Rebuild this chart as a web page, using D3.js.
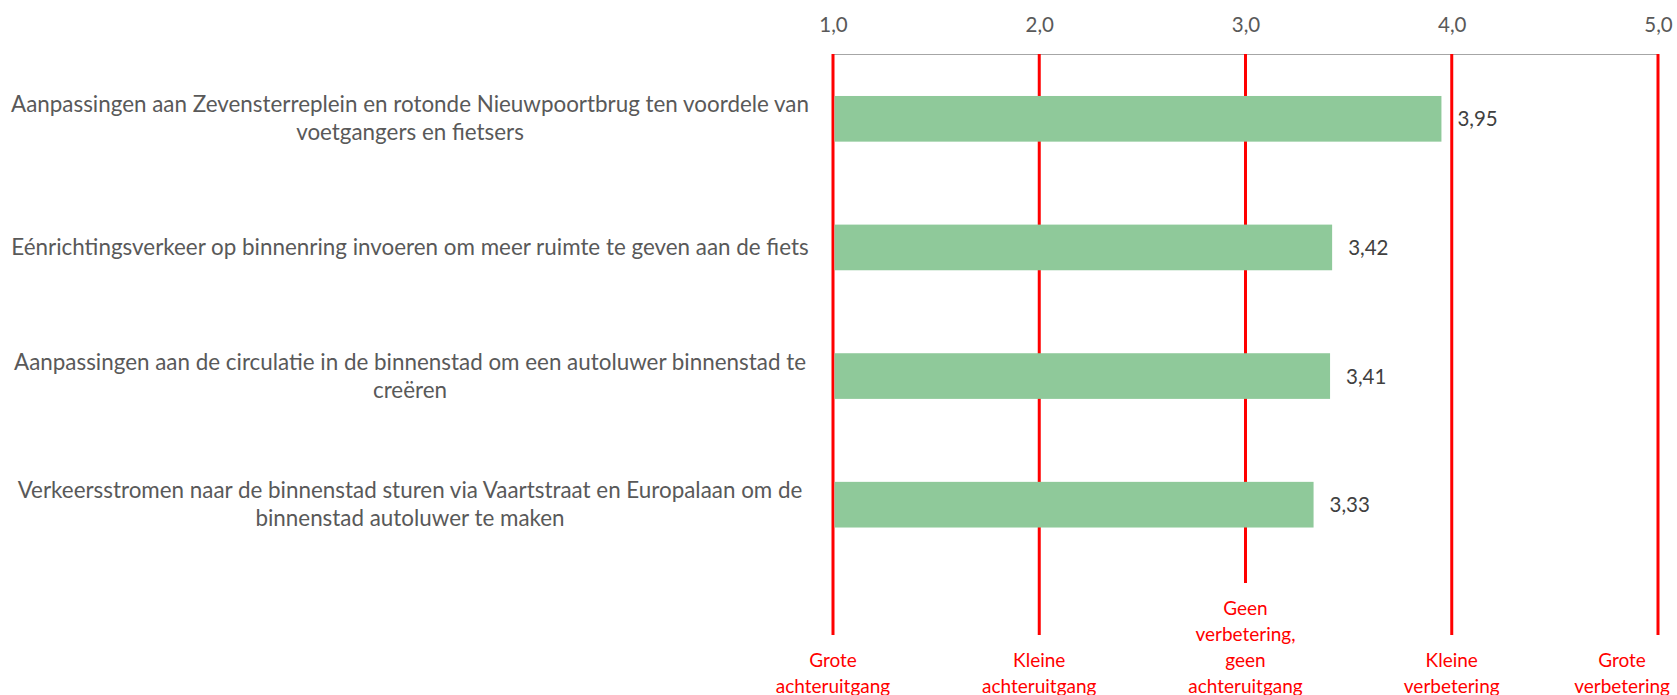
<!DOCTYPE html>
<html>
<head>
<meta charset="utf-8">
<script src="https://cdn.jsdelivr.net/npm/d3@7"></script>
<style>
body { margin: 0; background: #fff; }
svg { display: block; font-family: Lato, "Open Sans", sans-serif; }
</style>
</head>
<body>
<script>
var categories = [
  "Aanpassingen aan Zevensterreplein en rotonde Nieuwpoortbrug ten voordele van voetgangers en fietsers",
  "Eénrichtingsverkeer op binnenring invoeren om meer ruimte te geven aan de fiets",
  "Aanpassingen aan de circulatie in de binnenstad om een autoluwer binnenstad te creëren",
  "Verkeersstromen naar de binnenstad sturen via Vaartstraat en Europalaan om de binnenstad autoluwer te maken"
];
var scores = [3.95, 3.42, 3.41, 3.33];
var scaleTicks = [1, 2, 3, 4, 5];
var scaleLabels = [
  "Grote achteruitgang",
  "Kleine achteruitgang",
  "Geen verbetering, geen achteruitgang",
  "Kleine verbetering",
  "Grote verbetering"
];

var width = 1677, height = 695;
var barColor = "#8fc99a", red = "#ff0000";

var svg = d3.select("body").append("svg")
    .attr("width", width)
    .attr("height", height);

var x = d3.scaleLinear().domain([1, 5]).range([833, 1658]);
var y = d3.scaleBand()
    .domain(d3.range(categories.length))
    .range([54.5, 569])
    .paddingInner(0.645)
    .paddingOuter(0.3225);

// measuring helper for word wrap
var measure = svg.append("text").attr("visibility", "hidden");
function wrapLines(str, maxW, size) {
  measure.style("font-size", size + "px");
  var words = str.split(" "), lines = [], line = [];
  words.forEach(function(w) {
    line.push(w);
    measure.text(line.join(" "));
    if (measure.node().getComputedTextLength() > maxW && line.length > 1) {
      line.pop();
      lines.push(line.join(" "));
      line = [w];
    }
  });
  lines.push(line.join(" "));
  return lines;
}
function textWidth(str, size) {
  measure.style("font-size", size + "px").text(str);
  return measure.node().getComputedTextLength();
}

// top axis
var axis = svg.append("g")
    .attr("transform", "translate(0,54)")
    .call(d3.axisTop(x)
      .tickValues(scaleTicks)
      .tickSize(0)
      .tickPadding(22)
      .tickFormat(function(d) { return d3.format(".1f")(d).replace(".", ","); }));
axis.select(".domain").attr("stroke", "#a6a6a6").attr("stroke-width", 1);
axis.selectAll("text")
    .style("font-size", "20.5px")
    .style("font-family", "Lato, 'Open Sans', sans-serif")
    .attr("fill", "#595959");

// red reference lines + labels underneath
var refSize = 19, refLineH = 26, refBottom = 686;
scaleTicks.forEach(function(t, i) {
  var lines = wrapLines(scaleLabels[i], 95, refSize);
  var firstY = refBottom - (lines.length - 1) * refLineH;
  var maxW = d3.max(lines, function(l) { return textWidth(l, refSize); });
  var cx = Math.min(x(t), width - 7 - maxW / 2);

  svg.append("line")
      .attr("x1", x(t)).attr("x2", x(t))
      .attr("y1", 54).attr("y2", firstY - 25)
      .attr("stroke", red)
      .attr("stroke-width", 3);

  var txt = svg.append("text")
      .attr("text-anchor", "middle")
      .style("font-size", refSize + "px")
      .attr("fill", red);
  txt.selectAll("tspan").data(lines).enter().append("tspan")
      .attr("x", cx)
      .attr("y", function(d, j) { return firstY + j * refLineH + 6.5; })
      .text(function(d) { return d; });
});

// bars
svg.append("g").selectAll("rect")
    .data(scores)
    .enter().append("rect")
      .attr("x", x(1) + 1.5)
      .attr("y", function(d, i) { return y(i); })
      .attr("width", function(d) { return x(d) - x(1) - 1.5; })
      .attr("height", y.bandwidth())
      .attr("fill", barColor);

// value labels
svg.append("g").selectAll("text")
    .data(scores)
    .enter().append("text")
      .attr("x", function(d) { return x(d) + 16; })
      .attr("y", function(d, i) { return y(i) + y.bandwidth() / 2 + 7.5; })
      .style("font-size", "20.5px")
      .attr("fill", "#404040")
      .text(function(d) { return d3.format(".2f")(d).replace(".", ","); });

// category labels
var catSize = 22.4, catLineH = 28, catX = 410;
categories.forEach(function(c, i) {
  var lines = wrapLines(c, 835, catSize);
  var cy = y(i) + y.bandwidth() / 2;
  var txt = svg.append("text")
      .attr("text-anchor", "middle")
      .style("font-size", catSize + "px")
      .attr("fill", "#595959");
  txt.selectAll("tspan").data(lines).enter().append("tspan")
      .attr("x", catX)
      .attr("y", function(d, j) { return cy + (j - (lines.length - 1) / 2) * catLineH + 7.5; })
      .text(function(d) { return d; });
});

measure.remove();
</script>
</body>
</html>
